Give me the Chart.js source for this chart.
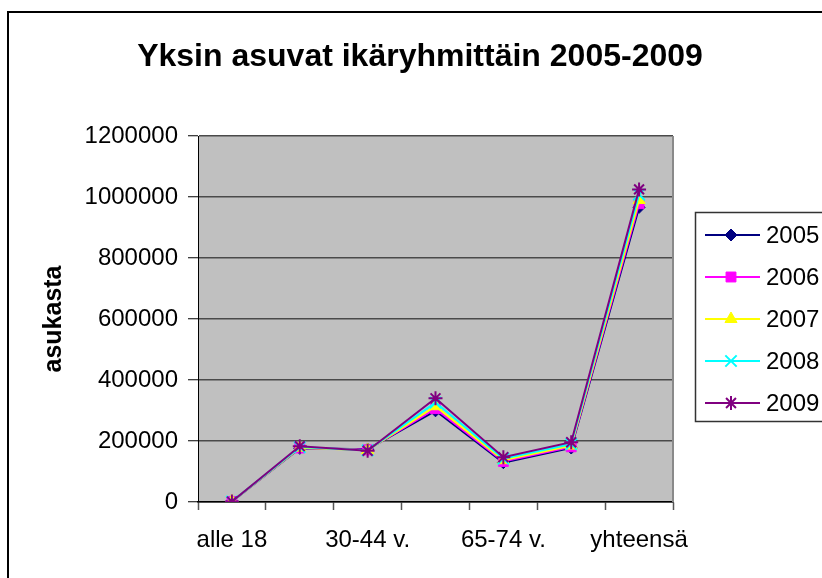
<!DOCTYPE html>
<html>
<head>
<meta charset="utf-8">
<script src="https://cdn.jsdelivr.net/npm/chart.js@4/dist/chart.umd.min.js"></script>
<style>
  body { margin: 0; background: #fff; }
  #wrap { width: 822px; height: 578px; position: relative; }
</style>
</head>
<body>
<div id="wrap"><canvas id="myChart"></canvas></div>
<script>
// ikäryhmät (joka toinen nimi jää piiloon kuten alkuperäisessä)
const categories = ['alle 18', '18-29 v.', '30-44 v.', '45-64 v.', '65-74 v.', '75- v.', 'yhteensä'];
const years = ['2005', '2006', '2007', '2008', '2009'];

const v2005 = [1500, 176000, 173000, 299000, 129000, 177000, 966000];
const v2006 = [1500, 177000, 171000, 306000, 133000, 181000, 978000];
const v2007 = [1500, 178000, 170000, 314000, 137000, 185000, 990000];
const v2008 = [1500, 180000, 169000, 326000, 142000, 190000, 1008000];
const v2009 = [1500, 183000, 168000, 340000, 147000, 196000, 1025000];

const yTicks = [0, 200000, 400000, 600000, 800000, 1000000, 1200000];

const FONT = "'Liberation Sans', Arial, sans-serif";

const seriesValues = [v2005, v2006, v2007, v2008, v2009];
const seriesColors = ['#000080', '#FF00FF', '#FFFF00', '#00FFFF', '#800080'];
const seriesMarkers = ['rectRot', 'rect', 'triangle', 'crossRot', 'star'];
const markerRadius = [6, 7, 7, 8, 7];

const datasets = years.map((year, i) => ({
    label: year,
    data: seriesValues[i],
    borderColor: seriesColors[i],
    backgroundColor: seriesColors[i],
    borderWidth: 2,
    pointStyle: seriesMarkers[i],
    pointRadius: markerRadius[i],
    pointBorderWidth: (seriesMarkers[i] === 'crossRot' || seriesMarkers[i] === 'star') ? 2 : 1,
    tension: 0,
    order: years.length - 1 - i // 2009 piirretään päällimmäiseksi
}));

// kehys, harmaa kuva-ala, otsikko ja selite
const excelLook = {
    id: 'excelLook',
    beforeDraw(chart) {
        const ctx = chart.ctx;
        const a = chart.chartArea;
        ctx.save();
        ctx.fillStyle = '#C0C0C0';
        ctx.fillRect(a.left, a.top, a.right - a.left, a.bottom - a.top);
        ctx.restore();
    },
    afterDraw(chart) {
        const ctx = chart.ctx;
        const a = chart.chartArea;
        ctx.save();

        // kuva-alan oikea reuna
        ctx.strokeStyle = '#8a8a8a';
        ctx.lineWidth = 2;
        ctx.beginPath();
        ctx.moveTo(a.right, a.top);
        ctx.lineTo(a.right, a.bottom);
        ctx.stroke();

        // ulkokehys (jatkuu kuvan ulkopuolelle)
        ctx.strokeStyle = '#000';
        ctx.lineWidth = 2;
        ctx.strokeRect(8, 12, 900, 700);

        // otsikko
        ctx.fillStyle = '#000';
        ctx.font = 'bold 32px ' + FONT;
        ctx.textAlign = 'center';
        ctx.textBaseline = 'alphabetic';
        ctx.fillText('Yksin asuvat ikäryhmittäin 2005-2009', 420, 66);

        // selite
        ctx.strokeStyle = '#333';
        ctx.lineWidth = 1.5;
        ctx.strokeRect(695.5, 212.5, 200, 209);
        const rowY = [235, 277, 319, 361, 403];
        chart.data.datasets.forEach((ds, i) => {
            const y = rowY[i];
            ctx.strokeStyle = ds.borderColor;
            ctx.lineWidth = 2;
            ctx.beginPath();
            ctx.moveTo(705, y);
            ctx.lineTo(760, y);
            ctx.stroke();
            ctx.fillStyle = ds.backgroundColor;
            ctx.lineWidth = ds.pointBorderWidth;
            Chart.helpers.drawPoint(ctx, {
                pointStyle: ds.pointStyle,
                radius: ds.pointRadius,
                rotation: 0,
                borderWidth: ds.pointBorderWidth
            }, 731, y);
            ctx.fillStyle = '#000';
            ctx.font = '24px ' + FONT;
            ctx.textAlign = 'left';
            ctx.textBaseline = 'middle';
            ctx.fillText(ds.label, 766, y + 1);
        });
        ctx.restore();
    }
};

const config = {
    type: 'line',
    data: {
        labels: categories,
        datasets: datasets
    },
    options: {
        responsive: true,
        maintainAspectRatio: false,
        animation: false,
        layout: {
            padding: { top: 136, right: 149, left: 0, bottom: 0 }
        },
        plugins: {
            legend: { display: false },
            title: { display: false },
            tooltip: { enabled: false }
        },
        scales: {
            x: {
                offset: true,
                afterFit: scale => { scale.height = 76; },
                grid: {
                    offset: true,
                    drawOnChartArea: false,
                    drawTicks: true,
                    tickLength: 8,
                    tickColor: '#555',
                    tickWidth: 1.5
                },
                border: { color: '#000', width: 1.5 },
                ticks: {
                    autoSkip: false,
                    maxRotation: 0,
                    padding: 16,
                    color: '#000',
                    font: { family: FONT, size: 24 },
                    callback: function (value, index) {
                        return index % 2 === 0 ? categories[index] : '';
                    }
                }
            },
            y: {
                min: yTicks[0],
                max: yTicks[yTicks.length - 1],
                afterFit: scale => { scale.width = 198; },
                afterBuildTicks: scale => { scale.ticks = yTicks.map(v => ({ value: v })); },
                grid: {
                    color: '#4a4a4a',
                    lineWidth: 1.5,
                    tickLength: 10,
                    tickColor: '#000',
                    tickWidth: 1
                },
                border: { color: '#000', width: 1 },
                ticks: {
                    padding: 10,
                    color: '#000',
                    font: { family: FONT, size: 24 },
                    callback: value => String(value)
                },
                title: {
                    display: true,
                    text: 'asukasta',
                    color: '#000',
                    font: { family: FONT, size: 25, weight: 'bold' },
                    padding: { top: 39, bottom: 0 }
                }
            }
        }
    },
    plugins: [excelLook]
};

new Chart(document.getElementById('myChart'), config);
</script>
</body>
</html>
